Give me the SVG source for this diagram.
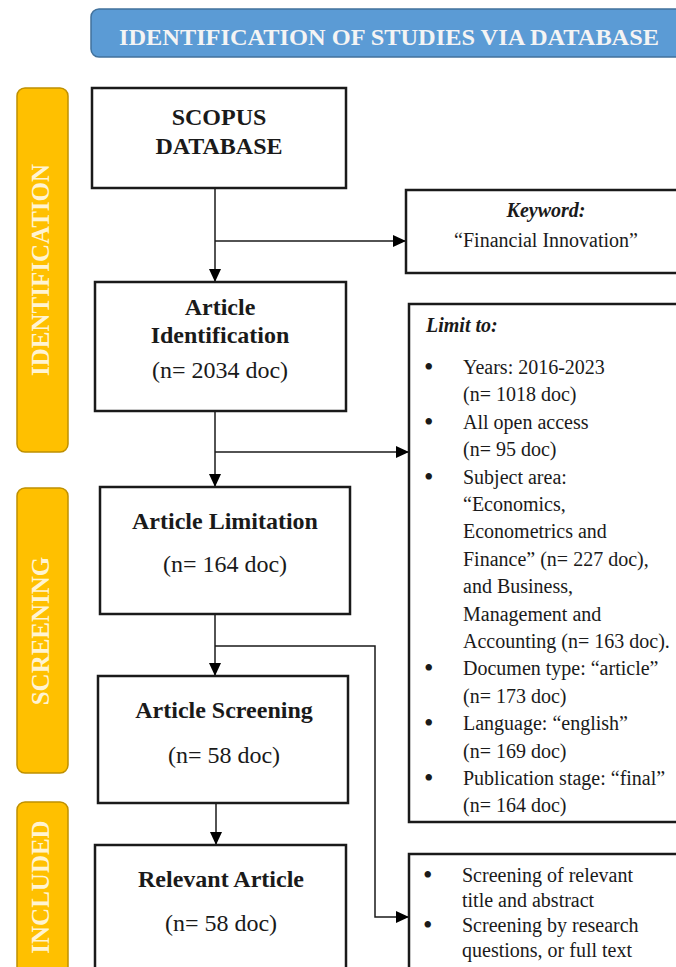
<svg xmlns="http://www.w3.org/2000/svg" width="676" height="967" viewBox="0 0 676 967">
<style>
.box{fill:#fff;stroke:#1a1a1a;stroke-width:2.5}
.bar{fill:#ffc000;stroke:#bf9000;stroke-width:1.5}
.bl{font-family:"Liberation Serif",serif;font-weight:bold;font-size:25px;fill:#fff4d2;text-anchor:middle}
.hd{font-family:"Liberation Serif",serif;font-weight:bold;font-size:24px;fill:#f4f4f4;text-anchor:middle}
.t{font-family:"Liberation Serif",serif;font-size:24px;fill:#1a1a1a;text-anchor:middle}
.tb{font-family:"Liberation Serif",serif;font-size:24px;font-weight:bold;fill:#1a1a1a;text-anchor:middle}
.s{font-family:"Liberation Serif",serif;font-size:20px;fill:#1a1a1a}
.b{font-size:27px}
.sbi{font-family:"Liberation Serif",serif;font-size:20px;font-weight:bold;font-style:italic;fill:#1a1a1a}
.c{fill:none;stroke:#1a1a1a;stroke-width:1.5}
</style>
<defs>
<marker id="ah" markerUnits="userSpaceOnUse" markerWidth="13" markerHeight="12" refX="13" refY="6" orient="auto">
<path d="M0,0 L13,6 L0,12 z" fill="#000"/>
</marker>
</defs>
<rect width="676" height="967" fill="#fff"/>

<g id="header">
<rect x="91" y="9" width="640" height="48" rx="8" fill="#5b9bd5" stroke="#41719c" stroke-width="1.5"/>
<text class="hd" x="389" y="45" textLength="540" lengthAdjust="spacingAndGlyphs">IDENTIFICATION OF STUDIES VIA DATABASE</text>
</g>

<g id="phase-identification">
<rect class="bar" x="17" y="88" width="51" height="364" rx="8"/>
<text class="bl" transform="translate(49,270) rotate(-90)">IDENTIFICATION</text>
</g>
<g id="phase-screening">
<rect class="bar" x="17" y="488" width="51" height="285" rx="8"/>
<text class="bl" transform="translate(49,631) rotate(-90)" font-size="26">SCREENING</text>
</g>
<g id="phase-included">
<rect class="bar" x="17" y="802" width="51" height="190" rx="8"/>
<text class="bl" transform="translate(49,887) rotate(-90)" font-size="26">INCLUDED</text>
</g>

<g id="connectors">
<line class="c" x1="215" y1="188" x2="215" y2="282" marker-end="url(#ah)"/>
<line class="c" x1="215" y1="241" x2="406" y2="241" marker-end="url(#ah)"/>
<line class="c" x1="215" y1="411" x2="215" y2="487" marker-end="url(#ah)"/>
<line class="c" x1="215" y1="452" x2="409" y2="452" marker-end="url(#ah)"/>
<line class="c" x1="215" y1="614" x2="215" y2="676" marker-end="url(#ah)"/>
<polyline class="c" points="215,646 375,646 375,917 409,917" marker-end="url(#ah)"/>
<line class="c" x1="216" y1="803" x2="216" y2="845" marker-end="url(#ah)"/>
</g>

<g id="scopus">
<rect class="box" x="92" y="88" width="254" height="100"/>
<text class="tb" x="219" y="125" font-size="23">SCOPUS</text>
<text class="tb" x="219" y="154" font-size="23">DATABASE</text>
</g>

<g id="keyword">
<rect class="box" x="406" y="190" width="300" height="83"/>
<text class="sbi" x="546" y="217" text-anchor="middle">Keyword:</text>
<text class="s" x="546" y="247" text-anchor="middle">“Financial Innovation”</text>
</g>

<g id="article-identification">
<rect class="box" x="95" y="282" width="251" height="129"/>
<text class="tb" x="220" y="315">Article</text>
<text class="tb" x="220" y="343">Identification</text>
<text class="t" x="220" y="378">(n= 2034 doc)</text>
</g>

<g id="limit">
<rect class="box" x="409" y="304" width="300" height="518"/>
<text class="sbi" x="426" y="332">Limit to:</text>
<g class="s">
<text class="b" x="424" y="376">•</text>
<text x="463" y="374">Years: 2016-2023</text>
<text x="463" y="401.4">(n= 1018 doc)</text>
<text class="b" x="424" y="430.8">•</text>
<text x="463" y="428.8">All open access</text>
<text x="463" y="456.2">(n= 95 doc)</text>
<text class="b" x="424" y="485.6">•</text>
<text x="463" y="483.6">Subject area:</text>
<text x="463" y="511">“Economics,</text>
<text x="463" y="538.4">Econometrics and</text>
<text x="463" y="565.8">Finance” (n= 227 doc),</text>
<text x="463" y="593.2">and Business,</text>
<text x="463" y="620.6">Management and</text>
<text x="463" y="648">Accounting (n= 163 doc).</text>
<text class="b" x="424" y="677.4">•</text>
<text x="463" y="675.4">Documen type: “article”</text>
<text x="463" y="702.8">(n= 173 doc)</text>
<text class="b" x="424" y="732.2">•</text>
<text x="463" y="730.2">Language: “english”</text>
<text x="463" y="757.6">(n= 169 doc)</text>
<text class="b" x="424" y="787">•</text>
<text x="463" y="785">Publication stage: “final”</text>
<text x="463" y="812.4">(n= 164 doc)</text>
</g>
</g>

<g id="article-limitation">
<rect class="box" x="100" y="487" width="250" height="127"/>
<text class="tb" x="225" y="529">Article Limitation</text>
<text class="t" x="225" y="572">(n= 164 doc)</text>
</g>

<g id="article-screening">
<rect class="box" x="98" y="676" width="250" height="127"/>
<text class="tb" x="224" y="718">Article Screening</text>
<text class="t" x="224" y="763">(n= 58 doc)</text>
</g>

<g id="relevant-article">
<rect class="box" x="95" y="845" width="251" height="140"/>
<text class="tb" x="221" y="887">Relevant Article</text>
<text class="t" x="221" y="931">(n= 58 doc)</text>
</g>

<g id="screening-criteria">
<rect class="box" x="409" y="854" width="300" height="140"/>
<g class="s">
<text class="b" x="423" y="884">•</text>
<text x="462" y="882">Screening of relevant</text>
<text x="462" y="907">title and abstract</text>
<text class="b" x="423" y="934">•</text>
<text x="462" y="932">Screening by research</text>
<text x="462" y="957">questions, or full text</text>
</g>
</g>
</svg>
